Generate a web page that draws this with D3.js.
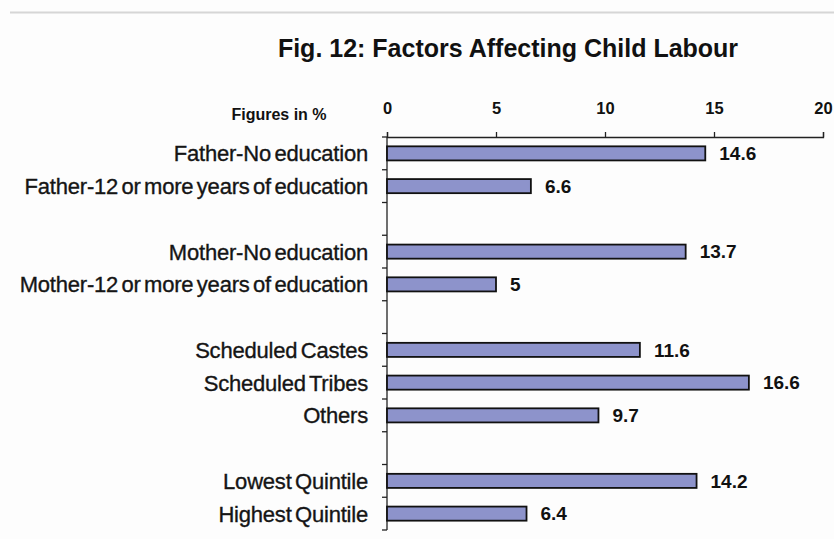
<!DOCTYPE html>
<html>
<head>
<meta charset="utf-8">
<script src="https://cdn.jsdelivr.net/npm/d3@7/dist/d3.min.js"></script>
<style>
  html, body { margin: 0; padding: 0; background: #fdfdfd; }
  svg { display: block; font-family: Arial, "Liberation Sans", sans-serif; }
</style>
</head>
<body>
<svg id="chart" width="834" height="539"></svg>
<script>
// Child labour incidence (%) by household factor
const categories = [
  "Father-No education",
  "Father-12 or more years of education",
  "Mother-No education",
  "Mother-12 or more years of education",
  "Scheduled Castes",
  "Scheduled Tribes",
  "Others",
  "Lowest Quintile",
  "Highest Quintile"
];
const values = [14.6, 6.6, 13.7, 5, 11.6, 16.6, 9.7, 14.2, 6.4];
// how many categories sit in each block; an empty row separates blocks
const groupSizes = [2, 2, 3, 2];
const xTicks = [0, 5, 10, 15, 20];
const title = "Fig. 12: Factors Affecting Child Labour";
const unitNote = "Figures in %";

// Build row keys with blank separator rows between groups
const rows = [];
let k = 0;
groupSizes.forEach((n, gi) => {
  for (let i = 0; i < n; i++, k++) rows.push({ key: "c" + k, label: categories[k], value: values[k] });
  if (gi < groupSizes.length - 1) rows.push({ key: "gap" + gi, label: null, value: null });
});

const svg = d3.select("#chart");

// thin rule across the top of the page
svg.append("line")
  .attr("x1", 10).attr("x2", 834).attr("y1", 12.5).attr("y2", 12.5)
  .attr("stroke", "#d6d6d6").attr("stroke-width", 2);

const plot = { left: 387, right: 823, top: 137, bottom: 530 };

const x = d3.scaleLinear().domain([0, 20]).range([plot.left, plot.right]);
const y = d3.scaleBand()
  .domain(rows.map(d => d.key))
  .range([plot.top, plot.bottom])
  .paddingInner(0.57)
  .paddingOuter(0.285);

// title
svg.append("text")
  .attr("x", 508).attr("y", 57)
  .attr("text-anchor", "middle")
  .attr("font-weight", "bold")
  .attr("font-size", 25)
  .attr("fill", "#111")
  .text(title);

svg.append("text")
  .attr("x", 279).attr("y", 120)
  .attr("text-anchor", "middle")
  .attr("font-weight", "bold")
  .attr("font-size", 16)
  .attr("fill", "#111")
  .text(unitNote);

// top value axis
const xAxis = d3.axisTop(x).tickValues(xTicks).tickSize(5).tickPadding(18).tickFormat(d3.format("d"));
const gx = svg.append("g").attr("transform", `translate(0,${plot.top})`).call(xAxis);
gx.select(".domain").attr("stroke", "#222").attr("stroke-width", 1.3);
gx.selectAll(".tick line").attr("stroke", "#222").attr("stroke-width", 1.3);
gx.selectAll(".tick text")
  .attr("font-size", 16.5).attr("font-weight", "bold").attr("fill", "#111")
  .attr("font-family", "Arial, 'Liberation Sans', sans-serif");

// left category axis: line plus ticks at row boundaries
const step = y.step();
const boundaries = d3.range(rows.length + 1).map(i => plot.top + i * step);
svg.append("line")
  .attr("x1", plot.left).attr("x2", plot.left)
  .attr("y1", plot.top).attr("y2", plot.bottom)
  .attr("stroke", "#222").attr("stroke-width", 1.3);
svg.append("g").selectAll("line").data(boundaries).join("line")
  .attr("x1", plot.left - 5).attr("x2", plot.left)
  .attr("y1", d => d).attr("y2", d => d)
  .attr("stroke", "#222").attr("stroke-width", 1.3);

const data = rows.filter(d => d.label !== null);

// category labels
svg.append("g").selectAll("text").data(data).join("text")
  .attr("x", 368)
  .attr("y", d => y(d.key) + y.bandwidth() / 2)
  .attr("dy", "0.36em")
  .attr("text-anchor", "end")
  .attr("font-size", 22)
  .attr("letter-spacing", -0.2)
  .attr("word-spacing", -2.5)
  .attr("fill", "#151515")
  .attr("stroke", "#151515")
  .attr("stroke-width", 0.35)
  .text(d => d.label);

// bars
svg.append("g").selectAll("rect").data(data).join("rect")
  .attr("x", x(0))
  .attr("y", d => y(d.key))
  .attr("width", d => x(d.value) - x(0))
  .attr("height", y.bandwidth())
  .attr("fill", "#8d93cb")
  .attr("stroke", "#111")
  .attr("stroke-width", 1.8);

// value labels
svg.append("g").selectAll("text").data(data).join("text")
  .attr("x", d => x(d.value) + 14)
  .attr("y", d => y(d.key) + y.bandwidth() / 2)
  .attr("dy", "0.36em")
  .attr("font-size", 19)
  .attr("font-weight", "bold")
  .attr("fill", "#111")
  .text(d => d3.format("")(d.value));
</script>
</body>
</html>
